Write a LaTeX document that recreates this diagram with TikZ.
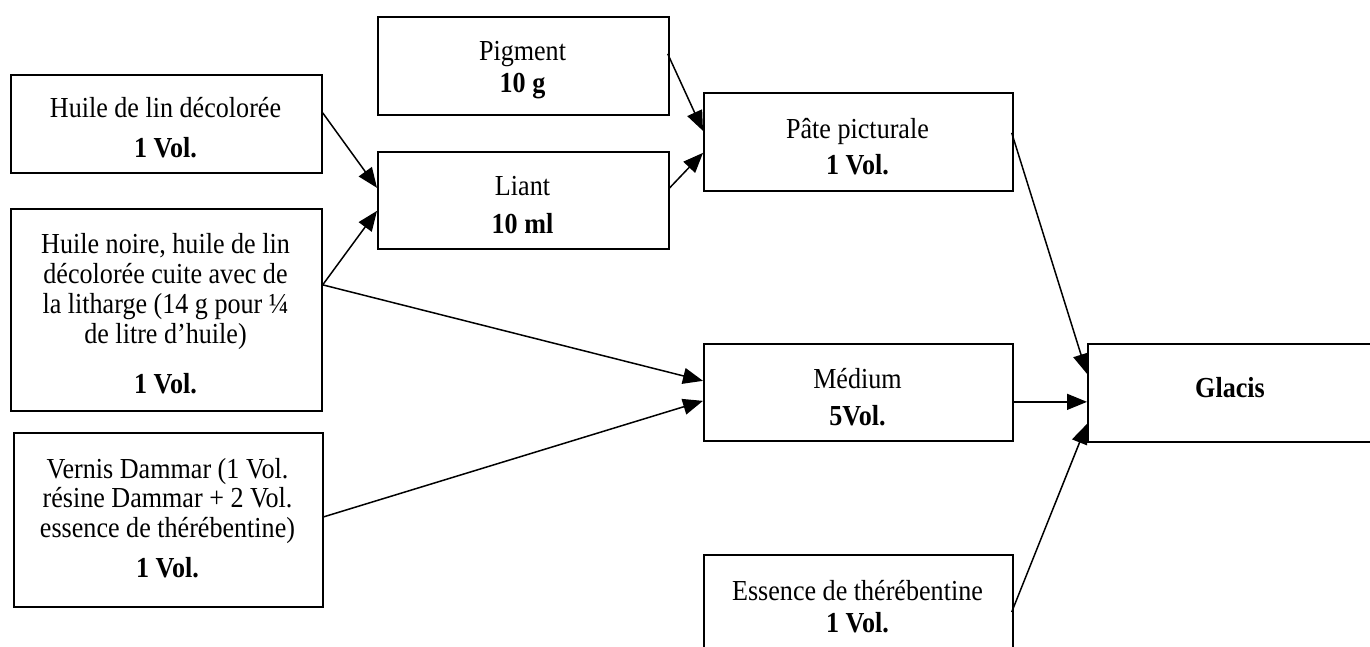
\documentclass[tikz,border=0pt]{standalone}
\usepackage{fontspec}
\setmainfont{Liberation Serif}
\usepackage{graphicx}
\usetikzlibrary{arrows.meta}
\newcommand\sq[1]{\scalebox{0.9}[1]{#1}}
\begin{document}
\begin{tikzpicture}[x=1pt,y=-1pt,
  box/.style={draw=black, line width=1.7pt, rectangle, inner sep=0pt, anchor=north west},
  tl/.style={anchor=base, inner sep=0pt, font=\fontsize{29}{34}\selectfont},
  tb/.style={anchor=base, inner sep=0pt, font=\fontsize{29}{34}\selectfont\bfseries},
  conn/.style={line width=1.5pt, -{Triangle[length=20pt,width=16pt]}}
]
\useasboundingbox[fill=white] (0,0) rectangle (1370,646);

% boxes
\node[box, minimum width=291pt, minimum height=98pt] (pig) at (377,16) {};
\node[box, minimum width=311pt, minimum height=98pt] (hl) at (10,74) {};
\node[box, minimum width=291pt, minimum height=97pt] (liant) at (377,151) {};
\node[box, minimum width=309pt, minimum height=98pt] (pate) at (703,92) {};
\node[box, minimum width=311pt, minimum height=202pt] (hn) at (10,208) {};
\node[box, minimum width=309pt, minimum height=97pt] (med) at (703,343) {};
\node[box, minimum width=287pt, minimum height=98pt] (gla) at (1087,343) {};
\node[box, minimum width=309pt, minimum height=174pt] (vd) at (13,432) {};
\node[box, minimum width=309pt, minimum height=130pt] (ess) at (703,554) {};

% texts
\node[tl] (tpig1) at (522.5,60) {\sq{Pigment}};
\node[tb] (tpig2) at (522.5,92) {\sq{10 g}};
\node[tl] (thl1) at (165.5,117) {\sq{Huile de lin décolorée}};
\node[tb] (thl2) at (165.5,157) {\sq{1 Vol.}};
\node[tl] (tli1) at (522.5,195) {\sq{Liant}};
\node[tb] (tli2) at (522.5,233) {\sq{10 ml}};
\node[tl] (tpa1) at (857.5,138) {\sq{Pâte picturale}};
\node[tb] (tpa2) at (857.5,174) {\sq{1 Vol.}};
\node[tl] (thn1) at (165.5,253) {\sq{Huile noire, huile de lin}};
\node[tl] (thn2) at (165.5,283) {\sq{décolorée cuite avec de}};
\node[tl] (thn3) at (165.5,313) {\sq{la litharge (14 g pour ¼}};
\node[tl] (thn4) at (165.5,343) {\sq{de litre d’huile)}};
\node[tb] (thn5) at (165.5,393) {\sq{1 Vol.}};
\node[tl] (tme1) at (857.5,388) {\sq{Médium}};
\node[tb] (tme2) at (857.5,425) {\sq{5Vol.}};
\node[tb] (tgl) at (1230,397) {\sq{Glacis}};
\node[tl] (tvd1) at (167.5,478) {\sq{Vernis Dammar (1 Vol.}};
\node[tl] (tvd2) at (167.5,507) {\sq{résine Dammar + 2 Vol.}};
\node[tl] (tvd3) at (167.5,537) {\sq{essence de thérébentine)}};
\node[tb] (tvd4) at (167.5,577) {\sq{1 Vol.}};
\node[tl] (tes1) at (857.5,600) {\sq{Essence de thérébentine}};
\node[tb] (tes2) at (857.5,632) {\sq{1 Vol.}};

% connectors
\draw[conn] ([yshift=11pt]hl.east) -- ([yshift=12.5pt]liant.west);
\draw[conn] ([yshift=25pt]hn.east) -- ([yshift=-10.5pt]liant.west);
\draw[conn] ([yshift=25pt]hn.east) -- ([yshift=11.5pt]med.west);
\draw[conn] ([yshift=3pt]vd.east) -- ([yshift=-8.5pt]med.west);
\draw[conn] ([xshift=-2pt,yshift=12pt]pig.east) -- ([yshift=11pt]pate.west);
\draw[conn] ([xshift=-1pt,yshift=11.5pt]liant.east) -- ([yshift=-11pt]pate.west);
\draw[conn] ([xshift=-2pt,yshift=9pt]pate.east) -- ([yshift=19pt]gla.west);
\draw[conn] ([xshift=-1pt,yshift=-9.5pt]med.east) -- ([yshift=-9pt]gla.west);
\draw[conn] ([xshift=-2pt,yshift=-58pt]ess.north east) -- ([yshift=-31pt]gla.west);
\end{tikzpicture}
\end{document}
